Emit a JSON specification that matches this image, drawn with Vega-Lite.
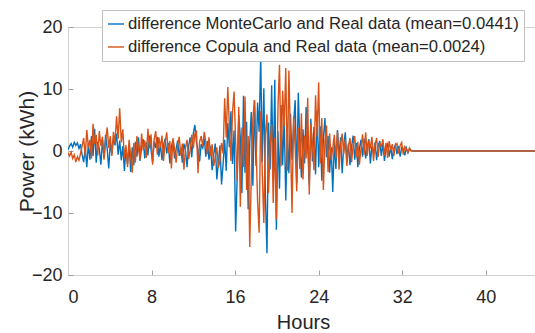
{
  "$schema": "https://vega.github.io/schema/vega-lite/v6.json",
  "autosize": {"type": "none"},
  "padding": {"left": 68, "top": 27, "right": 0, "bottom": 58},
  "width": 470,
  "height": 248,
  "background": "white",
  "config": {
    "font": "Liberation Sans",
    "view": {"stroke": "#d0d0d0", "strokeWidth": 1}
  },
  "data": {"values": [
    {"h":0,"a":0.2,"b":-0.3},{"h":0.15,"a":0.8,"b":-0.8},{"h":0.3,"a":1.2,"b":-0.2},{"h":0.45,"a":0.6,"b":-1.2},{"h":0.6,"a":1.4,"b":-0.6},{"h":0.75,"a":0.9,"b":-1.8},{"h":0.9,"a":1.3,"b":-0.9},{"h":1.05,"a":0.4,"b":-1.5},{"h":1.2,"a":1.1,"b":-0.4},{"h":1.35,"a":-0.6,"b":0.8},
    {"h":1.5,"a":-1.8,"b":2.1},{"h":1.65,"a":0.5,"b":-0.9},{"h":1.8,"a":-2.6,"b":3.4},{"h":1.95,"a":1.2,"b":0.6},{"h":2.1,"a":-1.4,"b":1.8},{"h":2.25,"a":2.4,"b":-1.2},{"h":2.4,"a":-0.8,"b":4.4},{"h":2.55,"a":3.6,"b":1.1},{"h":2.7,"a":-1.9,"b":2.6},{"h":2.85,"a":1.5,"b":-0.7},
    {"h":3.0,"a":0.3,"b":3.2},{"h":3.15,"a":-2.2,"b":0.8},{"h":3.3,"a":1.8,"b":2.3},{"h":3.45,"a":-1.1,"b":-1.4},{"h":3.6,"a":2.6,"b":1.6},{"h":3.75,"a":0.4,"b":3.8},{"h":3.9,"a":-2.8,"b":0.5},{"h":4.05,"a":1.3,"b":2.4},{"h":4.2,"a":-0.5,"b":-0.8},{"h":4.35,"a":2.1,"b":3.1},
    {"h":4.5,"a":0.9,"b":1.2},{"h":4.65,"a":2.8,"b":5.6},{"h":4.8,"a":-0.6,"b":2.0},{"h":4.95,"a":1.7,"b":6.9},{"h":5.1,"a":-1.5,"b":1.4},{"h":5.25,"a":0.8,"b":3.5},{"h":5.4,"a":-3.2,"b":-1.2},{"h":5.55,"a":0.4,"b":0.9},{"h":5.7,"a":-2.1,"b":-2.6},{"h":5.85,"a":1.2,"b":1.8},
    {"h":6.0,"a":-3.4,"b":-0.8},{"h":6.15,"a":0.6,"b":-3.5},{"h":6.3,"a":-2.3,"b":1.3},{"h":6.45,"a":1.5,"b":-1.9},{"h":6.6,"a":-0.9,"b":2.4},{"h":6.75,"a":2.2,"b":0.3},{"h":6.9,"a":-1.6,"b":-1.4},{"h":7.05,"a":0.7,"b":2.8},{"h":7.2,"a":1.9,"b":0.1},{"h":7.35,"a":-1.2,"b":1.7},
    {"h":7.5,"a":1.4,"b":-1.1},{"h":7.65,"a":-0.7,"b":3.6},{"h":7.8,"a":2.5,"b":0.4},{"h":7.95,"a":0.2,"b":2.7},{"h":8.1,"a":-1.8,"b":-2.2},{"h":8.25,"a":1.6,"b":1.9},{"h":8.4,"a":0.5,"b":3.2},{"h":8.55,"a":2.3,"b":-0.6},{"h":8.7,"a":-0.9,"b":2.2},{"h":8.85,"a":1.1,"b":0.6},
    {"h":9.0,"a":-1.5,"b":2.5},{"h":9.15,"a":0.9,"b":-1.6},{"h":9.3,"a":2.0,"b":1.4},{"h":9.45,"a":-0.4,"b":3.0},{"h":9.6,"a":1.3,"b":-0.3},{"h":9.75,"a":-2.0,"b":1.6},{"h":9.9,"a":0.7,"b":-2.8},{"h":10.05,"a":1.8,"b":2.1},{"h":10.2,"a":-1.2,"b":0.4},{"h":10.35,"a":0.3,"b":-1.9},
    {"h":10.5,"a":1.7,"b":0.9},{"h":10.65,"a":-0.8,"b":2.3},{"h":10.8,"a":0.6,"b":-0.7},{"h":10.95,"a":-1.9,"b":1.2},{"h":11.1,"a":1.2,"b":-3.0},{"h":11.25,"a":0.1,"b":0.5},{"h":11.4,"a":-2.6,"b":1.8},{"h":11.55,"a":0.8,"b":-1.3},{"h":11.7,"a":2.2,"b":0.2},{"h":11.85,"a":-1.0,"b":2.6},
    {"h":12.0,"a":2.9,"b":0.4},{"h":12.15,"a":4.2,"b":2.8},{"h":12.3,"a":1.3,"b":3.3},{"h":12.45,"a":0.2,"b":-3.6},{"h":12.6,"a":-1.7,"b":1.5},{"h":12.75,"a":1.1,"b":2.4},{"h":12.9,"a":0.5,"b":0.7},{"h":13.05,"a":2.0,"b":3.1},{"h":13.2,"a":-0.9,"b":1.4},{"h":13.35,"a":1.6,"b":-0.5},
    {"h":13.5,"a":-1.4,"b":2.2},{"h":13.65,"a":0.8,"b":-0.8},{"h":13.8,"a":-3.1,"b":1.1},{"h":13.95,"a":-0.6,"b":-2.4},{"h":14.1,"a":1.2,"b":-1.0},{"h":14.25,"a":-4.6,"b":0.6},{"h":14.4,"a":-1.8,"b":-2.7},{"h":14.55,"a":0.9,"b":-1.5},{"h":14.7,"a":-5.4,"b":1.3},{"h":14.85,"a":-2.1,"b":-0.4},
    {"h":15.0,"a":1.8,"b":8.5},{"h":15.15,"a":-3.2,"b":2.2},{"h":15.3,"a":4.5,"b":10.3},{"h":15.45,"a":0.6,"b":4.1},{"h":15.6,"a":6.4,"b":-1.6},{"h":15.75,"a":-2.1,"b":6.2},{"h":15.9,"a":3.3,"b":9.6},{"h":16.05,"a":-13.0,"b":1.5},{"h":16.2,"a":-4.2,"b":-4.8},{"h":16.35,"a":5.8,"b":7.1},
    {"h":16.5,"a":2.1,"b":-9.0},{"h":16.65,"a":-6.8,"b":3.8},{"h":16.8,"a":8.9,"b":-2.6},{"h":16.95,"a":-3.5,"b":8.8},{"h":17.1,"a":4.7,"b":-6.3},{"h":17.25,"a":-9.4,"b":2.4},{"h":17.4,"a":1.2,"b":-15.5},{"h":17.55,"a":6.3,"b":-4.1},{"h":17.7,"a":-5.6,"b":5.2},{"h":17.85,"a":8.2,"b":8.2},
    {"h":18.0,"a":-2.4,"b":1.6},{"h":18.15,"a":7.8,"b":-8.1},{"h":18.3,"a":3.1,"b":-13.2},{"h":18.45,"a":15.2,"b":6.4},{"h":18.6,"a":-1.8,"b":-3.5},{"h":18.75,"a":10.1,"b":-11.6},{"h":18.9,"a":-7.2,"b":2.7},{"h":19.05,"a":-16.5,"b":5.9},{"h":19.2,"a":4.6,"b":-6.8},{"h":19.35,"a":-3.0,"b":0.8},
    {"h":19.5,"a":10.6,"b":4.3},{"h":19.65,"a":-4.5,"b":-8.4},{"h":19.8,"a":11.5,"b":2.1},{"h":19.95,"a":-12.7,"b":-11.0},{"h":20.1,"a":3.2,"b":6.8},{"h":20.25,"a":-6.1,"b":13.9},{"h":20.4,"a":7.4,"b":-2.5},{"h":20.55,"a":-2.3,"b":9.7},{"h":20.7,"a":5.5,"b":4.0},{"h":20.85,"a":-8.0,"b":13.4},
    {"h":21.0,"a":2.7,"b":-3.2},{"h":21.15,"a":-3.6,"b":13.0},{"h":21.3,"a":6.0,"b":1.8},{"h":21.45,"a":-1.4,"b":-10.0},{"h":21.6,"a":4.3,"b":5.6},{"h":21.75,"a":8.2,"b":0.4},{"h":21.9,"a":-5.2,"b":-6.5},{"h":22.05,"a":9.4,"b":3.8},{"h":22.2,"a":1.0,"b":-2.9},{"h":22.35,"a":-4.3,"b":6.1},
    {"h":22.5,"a":3.5,"b":-4.6},{"h":22.65,"a":-2.0,"b":2.5},{"h":22.8,"a":7.1,"b":-1.2},{"h":22.95,"a":0.8,"b":8.6},{"h":23.1,"a":-5.5,"b":-7.0},{"h":23.25,"a":5.2,"b":4.4},{"h":23.4,"a":-1.7,"b":1.2},{"h":23.55,"a":3.9,"b":-3.1},{"h":23.7,"a":-3.8,"b":9.0},{"h":23.85,"a":6.5,"b":2.3},
    {"h":24.0,"a":-2.6,"b":11.1},{"h":24.15,"a":4.0,"b":-2.0},{"h":24.3,"a":-4.8,"b":5.3},{"h":24.45,"a":1.9,"b":-6.3},{"h":24.6,"a":5.3,"b":1.6},{"h":24.75,"a":-1.0,"b":4.1},{"h":24.9,"a":2.4,"b":-3.4},{"h":25.05,"a":-3.5,"b":2.8},{"h":25.2,"a":0.6,"b":-1.5},{"h":25.35,"a":-6.6,"b":0.5},
    {"h":25.5,"a":1.5,"b":2.6},{"h":25.65,"a":-2.9,"b":-1.2},{"h":25.8,"a":3.4,"b":3.2},{"h":25.95,"a":-0.8,"b":-3.0},{"h":26.1,"a":2.2,"b":1.1},{"h":26.25,"a":-3.6,"b":2.8},{"h":26.4,"a":0.9,"b":-0.5},{"h":26.55,"a":3.0,"b":1.9},{"h":26.7,"a":-1.7,"b":-2.4},{"h":26.85,"a":1.2,"b":0.8},
    {"h":27.0,"a":-2.3,"b":2.1},{"h":27.15,"a":0.7,"b":-1.8},{"h":27.3,"a":2.5,"b":0.9},{"h":27.45,"a":-1.4,"b":2.4},{"h":27.6,"a":1.3,"b":-1.0},{"h":27.75,"a":-2.6,"b":1.5},{"h":27.9,"a":0.4,"b":-2.2},{"h":28.05,"a":1.8,"b":0.3},{"h":28.2,"a":-0.9,"b":2.7},{"h":28.35,"a":2.0,"b":-0.6},
    {"h":28.5,"a":-1.2,"b":3.0},{"h":28.65,"a":0.6,"b":-0.8},{"h":28.8,"a":1.9,"b":1.7},{"h":28.95,"a":-2.0,"b":0.4},{"h":29.1,"a":0.8,"b":2.3},{"h":29.25,"a":-0.4,"b":-1.6},{"h":29.4,"a":1.4,"b":1.0},{"h":29.55,"a":-1.5,"b":2.1},{"h":29.7,"a":0.9,"b":-0.9},{"h":29.85,"a":1.6,"b":1.4},
    {"h":30.0,"a":-0.8,"b":0.6},{"h":30.15,"a":1.2,"b":1.9},{"h":30.3,"a":-1.6,"b":-0.7},{"h":30.45,"a":0.5,"b":1.3},{"h":30.6,"a":1.1,"b":-1.1},{"h":30.75,"a":-0.9,"b":1.6},{"h":30.9,"a":0.7,"b":0.2},{"h":31.05,"a":-1.3,"b":1.1},{"h":31.2,"a":0.4,"b":-0.8},{"h":31.35,"a":1.0,"b":0.9},
    {"h":31.5,"a":-0.5,"b":1.2},{"h":31.65,"a":0.8,"b":-0.4},{"h":31.8,"a":-0.9,"b":0.9},{"h":31.95,"a":0.6,"b":1.4},{"h":32.1,"a":0.3,"b":-0.6},{"h":32.25,"a":-0.7,"b":0.7},{"h":32.4,"a":0.5,"b":0.3},{"h":32.55,"a":-0.3,"b":-0.2},{"h":32.7,"a":0.4,"b":0.5},{"h":32.85,"a":0.1,"b":0.0},
    {"h":33.0,"a":0,"b":0},{"h":45,"a":0,"b":0}
  ]},
  "transform": [{"fold": ["a", "b"], "as": ["series", "value"]}],
  "mark": {"type": "line", "strokeWidth": 1.4, "clip": true},
  "encoding": {
    "x": {
      "field": "h", "type": "quantitative",
      "scale": {"domain": [0, 45], "nice": false, "zero": false},
      "axis": {
        "values": [0, 8, 16, 24, 32, 40],
        "title": "Hours", "titleFontSize": 20, "titleFontWeight": "normal", "titleColor": "#262626", "titlePadding": 6,
        "labelFontSize": 18, "labelColor": "#262626", "labelPadding": 18,
        "grid": false, "domainColor": "#d0d0d0", "tickColor": "#a0a0a0", "tickSize": -5
      }
    },
    "y": {
      "field": "value", "type": "quantitative",
      "scale": {"domain": [-20, 20], "nice": false},
      "axis": {
        "values": [-20, -10, 0, 10, 20],
        "title": "Power (kWh)", "titleFontSize": 21, "titleFontWeight": "normal", "titleColor": "#262626", "titlePadding": -6,
        "labelFontSize": 18, "labelColor": "#262626", "labelPadding": 11,
        "grid": false, "domainColor": "#d0d0d0", "tickColor": "#a0a0a0", "tickSize": -5
      }
    },
    "color": {
      "field": "series", "type": "nominal",
      "scale": {"domain": ["a", "b"], "range": ["#0072BD", "#D95319"]},
      "legend": {
        "orient": "none", "legendX": 34, "legendY": -17,
        "title": null,
        "labelExpr": "datum.label == 'a' ? 'difference MonteCarlo and Real data (mean=0.0441)' : 'difference Copula and Real data (mean=0.0024)'",
        "labelFontSize": 16.7, "labelColor": "#262626", "labelLimit": 600, "labelOffset": 3,
        "symbolType": "stroke", "symbolSize": 256, "symbolStrokeWidth": 1.4,
        "rowPadding": 5, "padding": 5,
        "strokeColor": "#c0c0c0", "fillColor": "white"
      }
    }
  }
}
